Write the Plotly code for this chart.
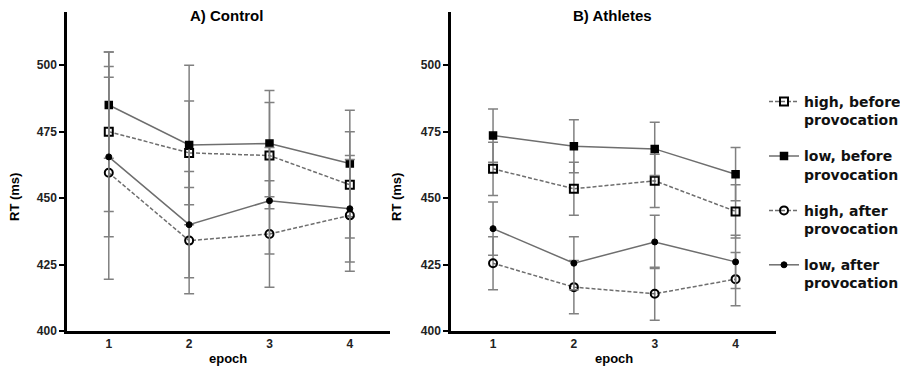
import plotly.graph_objects as go

epochs = [1, 2, 3, 4]
series_names = ["high, before<br>provocation", "low, before<br>provocation",
                "high, after<br>provocation", "low, after<br>provocation"]

# Control group (means and error half-widths)
ctrl_high_before = [475, 467, 466, 455]
ctrl_high_before_err = [30, 19.5, 20, 20]
ctrl_low_before = [485, 470, 470.5, 463]
ctrl_low_before_err = [20, 30, 20, 20]
ctrl_high_after = [459.5, 434, 436.5, 443.5]
ctrl_high_after_err = [40, 20, 20, 21]
ctrl_low_after = [465.5, 440, 449, 446]
ctrl_low_after_err = [30, 20, 20, 20]

# Athletes group
ath_high_before = [461, 453.5, 456.5, 445]
ath_high_before_err = [10, 10, 10, 10]
ath_low_before = [473.5, 469.5, 468.5, 459]
ath_low_before_err = [10, 10, 10, 10]
ath_high_after = [425.5, 416.5, 414, 419.5]
ath_high_after_err = [10, 10, 10, 10]
ath_low_after = [438.5, 425.5, 433.5, 426]
ath_low_after_err = [10, 10, 10, 10]

y_ticks = [400, 425, 450, 475, 500]
panel_titles = ["A) Control", "B) Athletes"]
x_title = "epoch"
y_title = "RT (ms)"

FONT = "Liberation Sans, Arial, sans-serif"
LEG_FONT = "DejaVu Sans, Liberation Sans, sans-serif"
LINE_COL = "#6e6e6e"
ERR_COL = "#808080"

# page body has an 8px margin; figure sized to fit the 908x377 window
OFF = 8
W, H = 908 - OFF, 377 - OFF
ML, MR, MT, MB = 67 - OFF, W - (776 - OFF), 12 - OFF, H - (331 - OFF)
PW = W - ML - MR
PH = H - MT - MB


def px_x(p):
    return (p - OFF - ML) / PW


def px_y(p):
    return 1 - (p - OFF - MT) / PH


styles = [
    dict(symbol="square-open", dash="4px,2px", size=8, lw=2),
    dict(symbol="square", dash="solid", size=7, lw=1.5),
    dict(symbol="circle-open", dash="4px,2px", size=8, lw=2),
    dict(symbol="circle", dash="solid", size=6, lw=1),
]

groups = [
    [(ctrl_high_before, ctrl_high_before_err), (ctrl_low_before, ctrl_low_before_err),
     (ctrl_high_after, ctrl_high_after_err), (ctrl_low_after, ctrl_low_after_err)],
    [(ath_high_before, ath_high_before_err), (ath_low_before, ath_low_before_err),
     (ath_high_after, ath_high_after_err), (ath_low_after, ath_low_after_err)],
]

fig = go.Figure()
for gi, grp in enumerate(groups):
    xa = "x" if gi == 0 else "x2"
    ya = "y" if gi == 0 else "y2"
    for si, (vals, errs) in enumerate(grp):
        st = styles[si]
        fig.add_trace(go.Scatter(
            x=epochs, y=vals, xaxis=xa, yaxis=ya,
            mode="lines+markers",
            name=series_names[si],
            legendgroup=f"g{si}",
            showlegend=(gi == 1),
            line=dict(color=LINE_COL, width=1.5, dash=st["dash"]),
            marker=dict(symbol=st["symbol"], size=st["size"], color="black",
                        line=dict(color="black", width=st["lw"])),
            error_y=dict(type="data", array=errs, visible=True, color=ERR_COL,
                         thickness=1.5, width=5),
        ))

axis_common = dict(
    showline=True, linecolor="black", linewidth=2.5, showgrid=False, zeroline=False,
    automargin=False,
    tickfont=dict(family=FONT, size=12, color="#222", weight="bold"),
)

d1 = [0, px_x(390)]
d2 = [px_x(451), 1]

fig.update_layout(
    width=W, height=H,
    margin=dict(l=ML, r=MR, t=MT, b=MB, autoexpand=False),
    plot_bgcolor="white", paper_bgcolor="white",
    font=dict(family=FONT, color="black"),
    xaxis=dict(domain=d1, range=[0.48, 4.5], tickvals=epochs, ticks="", **axis_common),
    xaxis2=dict(domain=d2, range=[0.48, 4.5], tickvals=epochs, ticks="", anchor="y2",
                **axis_common),
    yaxis=dict(range=[400, 520], tickvals=y_ticks, ticks="outside", ticklen=5, tickwidth=1.5,
               tickcolor="black", **axis_common),
    yaxis2=dict(range=[400, 520], tickvals=y_ticks, ticks="outside", ticklen=5, tickwidth=1.5,
                tickcolor="black", anchor="x2", **axis_common),
    legend=dict(x=px_x(764), xanchor="left", y=px_y(86), yanchor="top",
                font=dict(family=LEG_FONT, size=14, color="#111", weight="bold"),
                tracegroupgap=15, valign="top", bgcolor="rgba(0,0,0,0)"),
    showlegend=True,
)

title_x = [226, 612]
for i, t in enumerate(panel_titles):
    fig.add_annotation(text=t, xref="paper", yref="paper",
                       x=px_x(title_x[i]), xanchor="center",
                       y=px_y(16), yanchor="middle", showarrow=False,
                       font=dict(family=FONT, size=15, weight="bold", color="black"))
    fig.add_annotation(text=x_title, xref="paper", yref="paper",
                       x=px_x(title_x[i] + 2), xanchor="center",
                       y=px_y(358), yanchor="middle", showarrow=False,
                       font=dict(family=FONT, size=13, weight="bold", color="black"))

for xp in [14, 396]:
    fig.add_annotation(text=y_title, xref="paper", yref="paper",
                       x=px_x(xp), xanchor="center",
                       y=px_y(197), yanchor="middle", showarrow=False, textangle=-90,
                       font=dict(family=FONT, size=13, weight="bold", color="black"))

fig.write_html("out.html")
